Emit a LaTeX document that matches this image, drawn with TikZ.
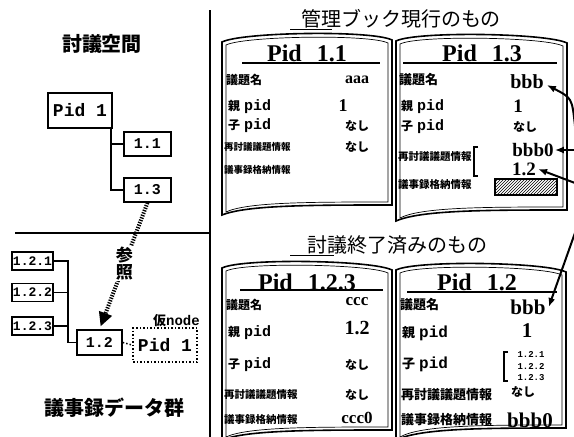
\documentclass[tikz,border=0pt]{standalone}
\usepackage{fontspec}
\setmainfont{Liberation Serif}
\setmonofont{Liberation Mono}
\newfontfamily\jp{Noto Sans CJK JP}
\usetikzlibrary{arrows.meta,patterns}
\newcommand\fs[1]{\fontsize{#1}{#1}\selectfont}
\newcommand\oyapid[3]{{\jp\bfseries\fs{#1}#3}\hspace{4pt}{\ttfamily\bfseries\fs{#2}pid}}
\newcommand\cardshape[6]{%
  \draw[line width=1.6pt] (#1,#3) .. controls ({#1+20},{#3-10}) and ({#2-20},{#4-10}) .. (#2,#4)
     -- (#2,#6) .. controls ({#2-80},#6) and ({#1+25},#6) .. (#1,#5) -- cycle;
  \draw[line width=0.7pt] ({#1+4},{#3+3}) .. controls ({#1+22},{#3-6}) and ({#2-22},{#4-6}) .. ({#2-4},{#4+3})
     -- ({#2-4},{#6-3}) .. controls ({#2-80},{#6-3}) and ({#1+25},{#6-3}) .. ({#1+4},{#5-3}) -- cycle;
}
\tikzset{
  treebox/.style={draw, line width=1.5pt, inner sep=0pt, font=\ttfamily\bfseries},
  conn/.style={line width=1.5pt},
  lbl/.style={anchor=west, inner sep=0pt, font=\jp\bfseries\fs{12}},
  val/.style={inner sep=0pt, font=\bfseries},
  hdr/.style={inner sep=0pt, font=\bfseries\fs{24}},
  hline/.style={line width=1.3pt},
  rarrow/.style={line width=2pt, -{Latex[length=9pt,width=7pt]}},
  bracket/.style={line width=1.2pt},
}
\begin{document}
\begin{tikzpicture}[x=1pt,y=-1pt]
\useasboundingbox[fill=white] (0,0) rectangle (574,437);

% ---------- left part ----------
\draw[line width=2.5pt] (210,10) -- (210,437);
\draw[line width=2pt] (15,233) -- (210,233);

\node[font=\jp\bfseries\fs{20}] (tspace) at (102,44) {討議空間};
\node[treebox, minimum width=64pt, minimum height=35pt, font=\ttfamily\bfseries\fs{18}] (p1) at (80,110.5) {Pid 1};
\node[treebox, minimum width=47pt, minimum height=24pt, font=\ttfamily\bfseries\fs{15}] (n11) at (147.5,144) {1.1};
\node[treebox, minimum width=47pt, minimum height=24pt, font=\ttfamily\bfseries\fs{15}] (n13) at (147.5,190) {1.3};
\draw[conn] ([xshift=-2pt]p1.south east) |- (n11.west);
\draw[conn] ([xshift=-2pt]p1.south east) |- (n13.west);

\node[treebox, minimum width=41pt, minimum height=18pt, font=\ttfamily\bfseries\fs{13}] (n121) at (32.5,261) {1.2.1};
\node[treebox, minimum width=41pt, minimum height=18pt, font=\ttfamily\bfseries\fs{13}] (n122) at (32.5,292.5) {1.2.2};
\node[treebox, minimum width=41pt, minimum height=18pt, font=\ttfamily\bfseries\fs{13}] (n123) at (32.5,326) {1.2.3};
\node[treebox, minimum width=45pt, minimum height=25pt, font=\ttfamily\bfseries\fs{15}] (n12) at (99.5,342.5) {1.2};
\coordinate (tx) at (68,300);
\draw[conn] (n121.east) -| (tx |- n12.west) -- (n12.west);
\draw[conn] (n122.east) -- (tx |- n122.east);
\draw[conn] (n123.east) -- (tx |- n123.east);

\node[draw, dotted, line width=1.5pt, inner sep=0pt, minimum width=64pt, minimum height=34pt, font=\ttfamily\bfseries\fs{18}] (pv) at (165,345) {Pid 1};
\draw[line width=1.5pt, dotted] (n12.east) -- (pv.west);
\node[anchor=south east, inner sep=0pt] (karinode) at (200,327) {{\jp\bfseries\fs{13}仮}{\ttfamily\bfseries\fs{14}node}};

\draw[line width=4pt, dash pattern=on 1.3pt off 1.3pt, shorten >=3pt, -{Triangle[length=14pt,width=13pt]}]
  (n13.south) -- (n12.north)
  node[pos=0.48, fill=white, inner sep=1pt, align=center, font=\jp\bfseries\fs{17}] (ref) {参\\照};

\node[font=\jp\bfseries\fs{20}] (tgiji) at (115,408) {議事録データ群};

% ---------- right part: titles ----------
\node[font=\jp\fs{20}] (ttop) at (401,19) {管理ブック現行のもの};
\draw[line width=1pt] (290,29) -- (332,29);
\node[font=\jp\fs{20}] (tbot) at (397,245) {討議終了済みのもの};
\draw[line width=1pt] (290,255) -- (334,255);

% ---------- cards ----------
\cardshape{222}{392}{42}{40}{215}{205}
\cardshape{396}{567}{41}{43}{221}{210}
\cardshape{222}{392}{268}{270}{440}{430}
\cardshape{396}{566}{270}{272}{440}{428}

% card 1
\node[hdr] (h1) at (307,53) {Pid\hspace{15pt}1.1};
\draw[hline] (242,63) -- (380,63);
\node[lbl] (c1a) at (226,80) {議題名};
\node[lbl] (c1b) at (228,107) {\oyapid{12}{15}{親}};
\node[lbl] (c1c) at (228,126) {\oyapid{12}{15}{子}};
\node[lbl, font=\jp\bfseries\fs{9.5}] (c1d) at (224,147) {再討議議題情報};
\node[lbl, font=\jp\bfseries\fs{9.5}] (c1e) at (224,170) {議事録格納情報};
\node[val, font=\bfseries\fs{16}] (v1a) at (357,80) {aaa};
\node[val, font=\bfseries\fs{18}] (v1b) at (343,106) {1};
\node[val, font=\jp\bfseries\fs{12}] (v1c) at (357,126) {なし};
\node[val, font=\jp\bfseries\fs{12}] (v1d) at (357,147) {なし};

% card 2
\node[hdr] (h2) at (482,53) {Pid\hspace{15pt}1.3};
\draw[hline] (403,63) -- (557,63);
\node[lbl, font=\jp\bfseries\fs{13}] (c2a) at (399,80) {議題名};
\node[lbl] (c2b) at (401,107) {\oyapid{12}{15}{親}};
\node[lbl] (c2c) at (401,127) {\oyapid{12}{15}{子}};
\node[lbl, font=\jp\bfseries\fs{10.5}] (c2d) at (398,157) {再討議議題情報};
\node[lbl, font=\jp\bfseries\fs{10.5}] (c2e) at (398,185) {議事録格納情報};
\node[val, font=\bfseries\fs{20}] (v2a) at (527,82) {bbb};
\node[val, font=\bfseries\fs{19}] (v2b) at (518,106) {1};
\node[val, font=\jp\bfseries\fs{12}] (v2c) at (525,127) {なし};
\draw[bracket] (478,147) -- (474,147) -- (474,176) -- (478,176);
\node[val, font=\bfseries\fs{19}] (v2d) at (533,150) {bbb0};
\node[val, font=\bfseries\fs{19}] (v2e) at (524,169) {1.2};
\draw[line width=1.5pt, pattern=north east lines] (495,179) rectangle (557,195);

% card 3
\node[hdr] (h3) at (307,282) {Pid\hspace{15pt}1.2.3};
\draw[hline] (240,290) -- (383,290);
\node[lbl] (c3a) at (226,305) {議題名};
\node[lbl] (c3b) at (228,333) {\oyapid{12}{15}{親}};
\node[lbl] (c3c) at (228,365) {\oyapid{12}{15}{子}};
\node[lbl, font=\jp\bfseries\fs{10.5}] (c3d) at (224,395) {再討議議題情報};
\node[lbl, font=\jp\bfseries\fs{10.5}] (c3e) at (224,420) {議事録格納情報};
\node[val, font=\bfseries\fs{17}] (v3a) at (357,302) {ccc};
\node[val, font=\bfseries\fs{20}] (v3b) at (357,328) {1.2};
\node[val, font=\jp\bfseries\fs{12}] (v3c) at (357,365) {なし};
\node[val, font=\jp\bfseries\fs{12}] (v3d) at (357,395) {なし};
\node[val, font=\bfseries\fs{17}] (v3e) at (357,418) {ccc0};

% card 4
\node[hdr] (h4) at (477,282) {Pid\hspace{15pt}1.2};
\draw[hline] (407,292) -- (557,292);
\node[lbl, font=\jp\bfseries\fs{13}] (c4a) at (400,305) {議題名};
\node[lbl] (c4b) at (402,333) {\oyapid{13}{16}{親}};
\node[lbl] (c4c) at (402,364) {\oyapid{13}{16}{子}};
\node[lbl, font=\jp\bfseries\fs{13}] (c4d) at (401,395) {再討議議題情報};
\node[lbl, font=\jp\bfseries\fs{13}] (c4e) at (401,420) {議事録格納情報};
\node[val, font=\bfseries\fs{21}] (v4a) at (528,307) {bbb};
\node[val, font=\bfseries\fs{21}] (v4b) at (527,331) {1};
\draw[bracket] (508,352) -- (504,352) -- (504,381) -- (508,381);
\node[val, font=\ttfamily\bfseries\fs{9}] (v4c1) at (531,354) {1.2.1};
\node[val, font=\ttfamily\bfseries\fs{9}] (v4c2) at (531,366) {1.2.2};
\node[val, font=\ttfamily\bfseries\fs{9}] (v4c3) at (531,378) {1.2.3};
\node[val, font=\jp\bfseries\fs{12}] (v4d) at (523,392) {なし};
\node[val, font=\bfseries\fs{21}] (v4e) at (530,420) {bbb0};

% ---------- arrows from the right edge ----------
\coordinate (eA) at (575,126);
\coordinate (eB) at (575,150);
\coordinate (eC) at (575,183);
\coordinate (eD) at (576,230);
\draw[rarrow] (eA) .. controls (572,98) .. ([xshift=3pt,yshift=-3pt]v2a.east);
\draw[rarrow] (eB) -- ([xshift=1pt]v2d.east);
\draw[rarrow] (eC) -- ([xshift=2pt]v2e.east);
\draw[rarrow] (eD) -- ([xshift=3pt]v4a.east);
\end{tikzpicture}
\end{document}
